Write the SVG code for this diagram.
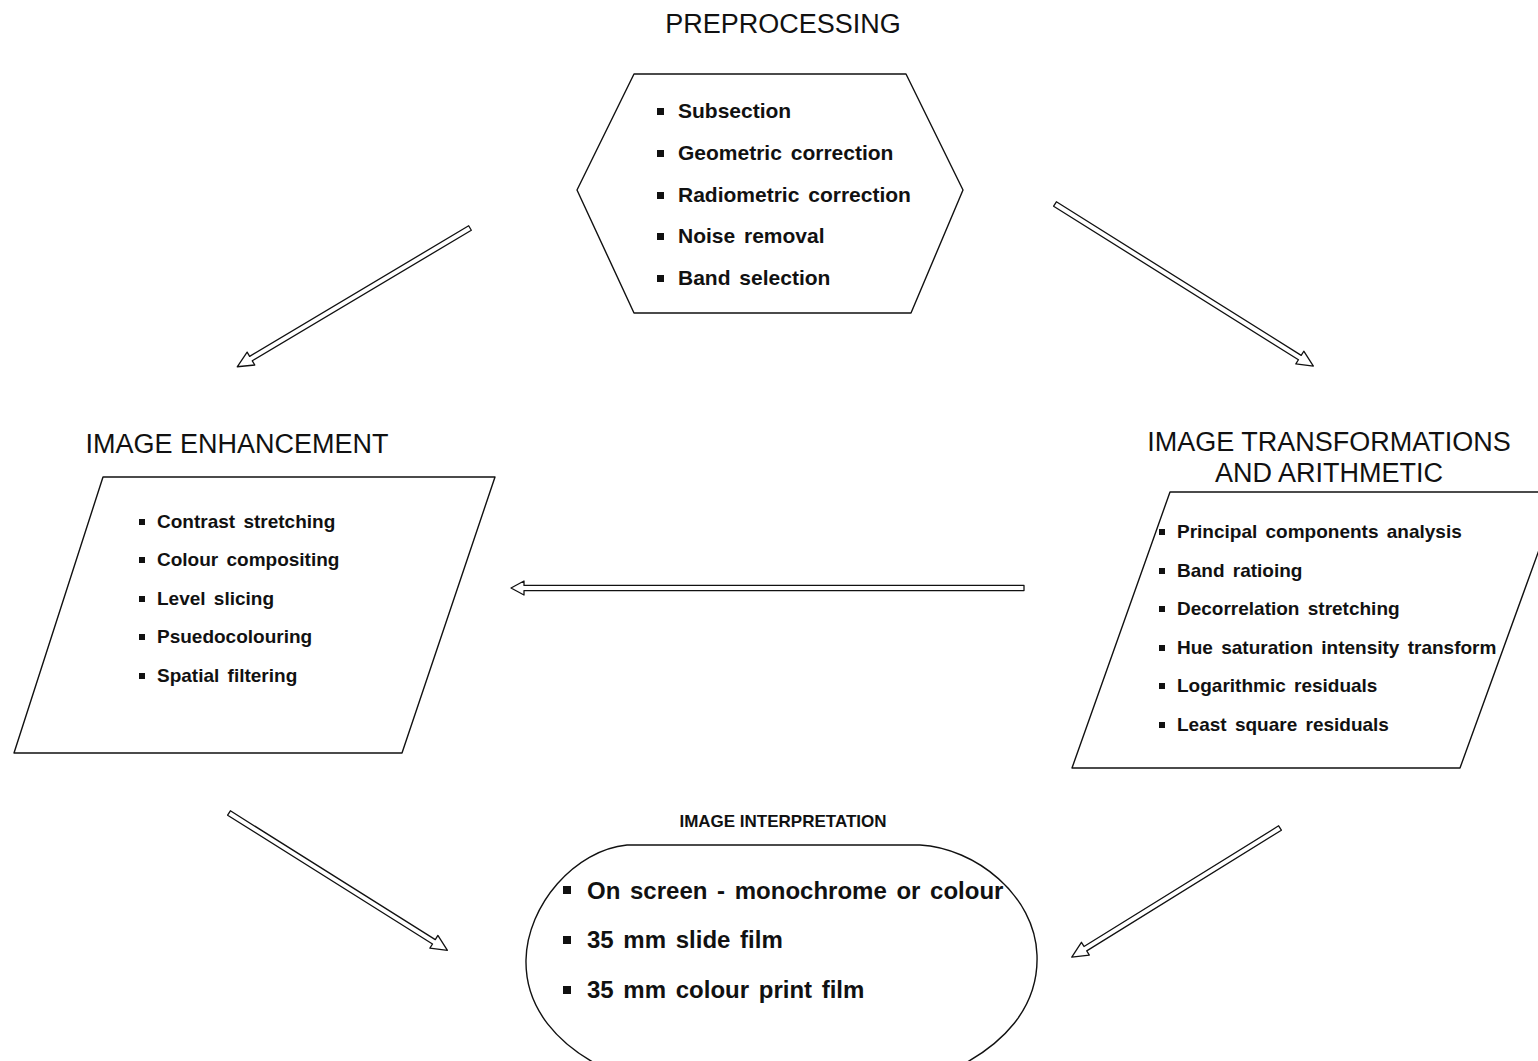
<svg xmlns="http://www.w3.org/2000/svg" width="1538" height="1061" viewBox="0 0 1538 1061">
<style>
.shape{fill:#fff;stroke:#111;stroke-width:1.4;stroke-linejoin:round}
.arrow{fill:#fff;stroke:#111;stroke-width:1.3;stroke-linejoin:round}
.title{font-family:"Liberation Sans",Arial,sans-serif;font-size:27px;fill:#111}
.small{font-family:"Liberation Sans",Arial,sans-serif;font-size:17px;font-weight:bold;fill:#111}
.item{font-family:"Liberation Sans",Arial,sans-serif;font-weight:bold;fill:#111;word-spacing:3px}
.i21{font-size:21px}
.i19{font-size:19px}
.i24{font-size:24px}
.bullet{fill:#111}
</style>
<rect width="1538" height="1061" fill="#fff"/>

<g id="preprocessing">
<text class="title" x="783" y="33" text-anchor="middle">PREPROCESSING</text>
<polygon class="shape" points="634,74 906,74 963,190 911,313 634,313 577,190"/>
<g class="item i21">
<rect class="bullet" x="657" y="108" width="7" height="7"/><text x="678" y="118">Subsection</text>
<rect class="bullet" x="657" y="150" width="7" height="7"/><text x="678" y="160">Geometric correction</text>
<rect class="bullet" x="657" y="192" width="7" height="7"/><text x="678" y="202">Radiometric correction</text>
<rect class="bullet" x="657" y="233" width="7" height="7"/><text x="678" y="243">Noise removal</text>
<rect class="bullet" x="657" y="275" width="7" height="7"/><text x="678" y="285">Band selection</text>
</g>
</g>

<g id="enhancement">
<text class="title" x="237" y="453" text-anchor="middle">IMAGE ENHANCEMENT</text>
<polygon class="shape" points="103,477 495,477 402,753 14,753"/>
<g class="item i19">
<rect class="bullet" x="139" y="519" width="6" height="6"/><text x="157" y="528">Contrast stretching</text>
<rect class="bullet" x="139" y="557" width="6" height="6"/><text x="157" y="566">Colour compositing</text>
<rect class="bullet" x="139" y="596" width="6" height="6"/><text x="157" y="605">Level slicing</text>
<rect class="bullet" x="139" y="634" width="6" height="6"/><text x="157" y="643">Psuedocolouring</text>
<rect class="bullet" x="139" y="673" width="6" height="6"/><text x="157" y="682">Spatial filtering</text>
</g>
</g>

<g id="transformations">
<text class="title" x="1329" y="451" text-anchor="middle">IMAGE TRANSFORMATIONS</text>
<text class="title" x="1329" y="482" text-anchor="middle">AND ARITHMETIC</text>
<polygon class="shape" points="1170,492 1560,492 1460,768 1072,768"/>
<g class="item i19">
<rect class="bullet" x="1159" y="529" width="6" height="6"/><text x="1177" y="538">Principal components analysis</text>
<rect class="bullet" x="1159" y="568" width="6" height="6"/><text x="1177" y="577">Band ratioing</text>
<rect class="bullet" x="1159" y="606" width="6" height="6"/><text x="1177" y="615">Decorrelation stretching</text>
<rect class="bullet" x="1159" y="645" width="6" height="6"/><text x="1177" y="654">Hue saturation intensity transform</text>
<rect class="bullet" x="1159" y="683" width="6" height="6"/><text x="1177" y="692">Logarithmic residuals</text>
<rect class="bullet" x="1159" y="722" width="6" height="6"/><text x="1177" y="731">Least square residuals</text>
</g>
</g>

<g id="interpretation">
<text class="small" x="783" y="827" text-anchor="middle">IMAGE INTERPRETATION</text>
<path class="shape" d="M627,845 L920,845 C975,848 1035,895 1037,955 C1039,1010 1000,1045 960,1066 L600,1066 C560,1045 525,1010 526,960 C527,905 575,850 627,845 Z"/>
<g class="item i24">
<rect class="bullet" x="563" y="886" width="8" height="8"/><text x="587" y="899">On screen - monochrome or colour</text>
<rect class="bullet" x="563" y="936" width="8" height="8"/><text x="587" y="948">35 mm slide film</text>
<rect class="bullet" x="563" y="986" width="8" height="8"/><text x="587" y="998">35 mm colour print film</text>
</g>
</g>

<g id="connectors">
<polygon class="arrow" transform="translate(470,228) rotate(149.2)" points="0,-2.6 255,-2.6 255,-7.5 271,0 255,7.5 255,2.6 0,2.6"/>
<polygon class="arrow" transform="translate(1055,204) rotate(32.1)" points="0,-2.6 289,-2.6 289,-7.5 305,0 289,7.5 289,2.6 0,2.6"/>
<polygon class="arrow" transform="translate(1024,588) rotate(180)" points="0,-2.6 500,-2.6 500,-7 513,0 500,7 500,2.6 0,2.6"/>
<polygon class="arrow" transform="translate(229,813) rotate(32.15)" points="0,-2.6 242,-2.6 242,-7.5 258,0 242,7.5 242,2.6 0,2.6"/>
<polygon class="arrow" transform="translate(1280,828) rotate(148.2)" points="0,-2.6 229,-2.6 229,-7.5 245,0 229,7.5 229,2.6 0,2.6"/>
</g>
</svg>
